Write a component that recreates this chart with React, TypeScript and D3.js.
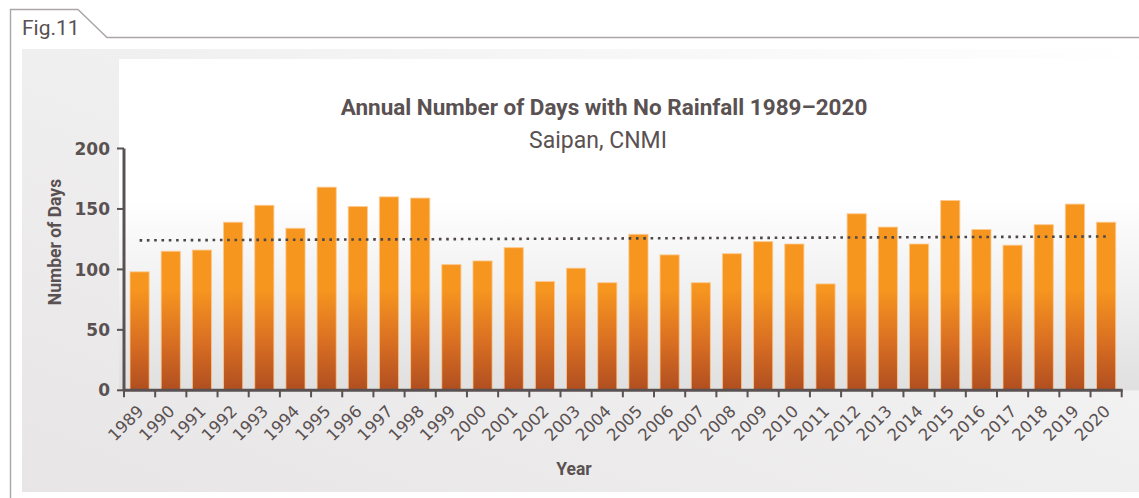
import { useEffect, useRef } from 'react';
import * as d3 from 'd3';

// Annual number of days with no rainfall, Saipan
const years = [
    '1989', '1990', '1991', '1992', '1993', '1994', '1995', '1996', '1997', '1998',
    '1999', '2000', '2001', '2002', '2003', '2004', '2005', '2006', '2007', '2008',
    '2009', '2010', '2011', '2012', '2013', '2014', '2015', '2016', '2017', '2018',
    '2019', '2020'
];
const dryDays = [
    98, 115, 116, 139, 153, 134, 168, 152, 160, 159,
    104, 107, 118, 90, 101, 89, 129, 112, 89, 113,
    123, 121, 88, 146, 135, 121, 157, 133, 120, 137,
    154, 139
];
const yTicks = [0, 50, 100, 150, 200];

const W = 1139;
const H = 498;
const INK = '#5a5152';

export default function App() {
    const svgRef = useRef<SVGSVGElement>(null);

    useEffect(() => {
        if (!svgRef.current) return;
        const svg = d3.select(svgRef.current);
        svg.selectAll('*').remove();
        svg.attr('width', W).attr('height', H);

        const x0 = 124, x1 = 1121.7;
        const yBottom = 390.3, yTop = 148.5;

        const x = d3.scaleBand<string>()
            .domain(years)
            .range([x0, x1])
            .paddingInner(0.385)
            .paddingOuter(0.1925);
        const y = d3.scaleLinear().domain([0, 200]).range([yBottom, yTop]);

        const defs = svg.append('defs');

        // panel: grey bottom-left fading to white top-right
        const pg = defs.append('linearGradient').attr('id', 'panelGrad')
            .attr('x1', 0).attr('y1', 1).attr('x2', 1).attr('y2', 0);
        pg.append('stop').attr('offset', 0).attr('stop-color', '#e7e5e6');
        pg.append('stop').attr('offset', 0.55).attr('stop-color', '#f1f0f0');
        pg.append('stop').attr('offset', 1).attr('stop-color', '#ffffff');

        // plot area: white top to grey at the axis
        const bg = defs.append('linearGradient').attr('id', 'plotGrad')
            .attr('x1', 0).attr('y1', 0).attr('x2', 0).attr('y2', 1);
        bg.append('stop').attr('offset', 0).attr('stop-color', '#ffffff');
        bg.append('stop').attr('offset', 0.42).attr('stop-color', '#ffffff');
        bg.append('stop').attr('offset', 1).attr('stop-color', '#e0e0e0');

        // bars: orange, darkening to rust near the base
        const barG = defs.append('linearGradient').attr('id', 'barGrad')
            .attr('gradientUnits', 'userSpaceOnUse')
            .attr('x1', 0).attr('y1', yTop).attr('x2', 0).attr('y2', yBottom);
        barG.append('stop').attr('offset', 0).attr('stop-color', '#f7961f');
        barG.append('stop').attr('offset', 0.58).attr('stop-color', '#f7961f');
        barG.append('stop').attr('offset', 0.8).attr('stop-color', '#d96f22');
        barG.append('stop').attr('offset', 1).attr('stop-color', '#b04e20');

        svg.append('rect').attr('width', W).attr('height', H).attr('fill', '#ffffff');

        // frame with tab
        svg.append('rect')
            .attr('x', 22).attr('y', 49).attr('width', W - 22).attr('height', 443)
            .attr('fill', 'url(#panelGrad)');
        svg.append('rect')
            .attr('x', 119).attr('y', 59).attr('width', W - 119).attr('height', yBottom - 59)
            .attr('fill', 'url(#plotGrad)');
        svg.append('path')
            .attr('d', `M10.5,${H} L10.5,9.5 L78,9.5 L107,37.5 L${W},37.5`)
            .attr('fill', 'none')
            .attr('stroke', '#aaa5a7')
            .attr('stroke-width', 1.4);
        svg.append('text')
            .attr('x', 22).attr('y', 35)
            .attr('font-family', 'Roboto, sans-serif')
            .attr('font-size', 21)
            .attr('fill', INK)
            .text('Fig.11');

        // titles
        svg.append('text')
            .attr('x', 604).attr('y', 115)
            .attr('text-anchor', 'middle')
            .attr('font-family', 'Roboto, sans-serif')
            .attr('font-weight', 700)
            .attr('font-size', 22.5)
            .attr('fill', INK)
            .text('Annual Number of Days with No Rainfall 1989–2020');
        svg.append('text')
            .attr('x', 598).attr('y', 148)
            .attr('text-anchor', 'middle')
            .attr('font-family', 'Roboto, sans-serif')
            .attr('font-size', 23)
            .attr('fill', INK)
            .text('Saipan, CNMI');

        // bars
        svg.append('g')
            .selectAll('rect')
            .data(dryDays)
            .join('rect')
            .attr('x', (_, i) => x(years[i])!)
            .attr('y', d => y(d))
            .attr('width', x.bandwidth())
            .attr('height', d => yBottom - y(d))
            .attr('fill', 'url(#barGrad)')
            .attr('stroke', '#fcc990')
            .attr('stroke-opacity', 0.8)
            .attr('stroke-width', 1);

        // linear trend from the data
        const idx = dryDays.map((_, i) => i);
        const mx = d3.mean(idx)!;
        const my = d3.mean(dryDays)!;
        const slope = d3.sum(idx, i => (i - mx) * (dryDays[i] - my)) / d3.sum(idx, i => (i - mx) ** 2);
        const trend = (i: number) => my + slope * (i - mx);
        const cx = (i: number) => x(years[i])! + x.bandwidth() / 2;
        svg.append('line')
            .attr('x1', cx(0)).attr('y1', y(trend(0)))
            .attr('x2', cx(years.length - 1)).attr('y2', y(trend(years.length - 1)))
            .attr('stroke', '#4d4648')
            .attr('stroke-width', 2.6)
            .attr('stroke-dasharray', '2.6 4.7');

        // y axis
        const yAxis = svg.append('g');
        yAxis.append('line')
            .attr('x1', x0).attr('x2', x0).attr('y1', yTop).attr('y2', yBottom)
            .attr('stroke', INK).attr('stroke-width', 3);
        yAxis.selectAll('.yt')
            .data(yTicks)
            .join('line')
            .attr('x1', x0 - 7).attr('x2', x0)
            .attr('y1', d => y(d)).attr('y2', d => y(d))
            .attr('stroke', INK).attr('stroke-width', 2);
        yAxis.selectAll('.yl')
            .data(yTicks)
            .join('text')
            .attr('x', 110)
            .attr('y', d => y(d))
            .attr('dy', '0.36em')
            .attr('text-anchor', 'end')
            .attr('font-family', '"DejaVu Sans", sans-serif')
            .attr('font-weight', 700)
            .attr('font-size', 17)
            .attr('fill', INK)
            .text(d => d);
        svg.append('text')
            .attr('transform', `translate(61,242) rotate(-90)`)
            .attr('text-anchor', 'middle')
            .attr('font-family', 'Roboto, sans-serif')
            .attr('font-weight', 700)
            .attr('font-size', 17.5)
            .attr('fill', INK)
            .text('Number of Days');

        // x axis
        const step = x.step();
        const xAxis = svg.append('g');
        xAxis.append('line')
            .attr('x1', x0 - 1).attr('x2', x1 + 1).attr('y1', yBottom).attr('y2', yBottom)
            .attr('stroke', INK).attr('stroke-width', 3);
        xAxis.selectAll('.xt')
            .data(d3.range(years.length + 1))
            .join('line')
            .attr('x1', i => x0 + i * step).attr('x2', i => x0 + i * step)
            .attr('y1', yBottom).attr('y2', yBottom + 7)
            .attr('stroke', INK).attr('stroke-width', 2);
        xAxis.selectAll('.xl')
            .data(years)
            .join('text')
            .attr('transform', d => `translate(${x(d)! + x.bandwidth() / 2 + 5},${yBottom + 22}) rotate(-45)`)
            .attr('text-anchor', 'end')
            .attr('font-family', '"DejaVu Sans", sans-serif')
            .attr('font-size', 16.5)
            .attr('fill', INK)
            .text(d => d);
        svg.append('text')
            .attr('x', 574).attr('y', 475)
            .attr('text-anchor', 'middle')
            .attr('font-family', 'Roboto, sans-serif')
            .attr('font-weight', 700)
            .attr('font-size', 17.5)
            .attr('fill', INK)
            .text('Year');
    }, []);

    return (
        <div style={{ position: 'absolute', left: 0, top: 0 }}>
            <svg ref={svgRef} style={{ display: 'block' }}></svg>
        </div>
    );
}
